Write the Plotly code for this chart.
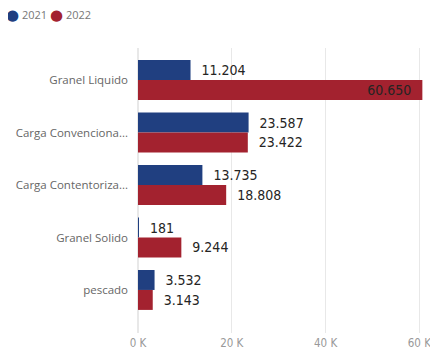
import plotly.graph_objects as go

categories = ["Granel Liquido", "Carga Convenciona...", "Carga Contentoriza...", "Granel Solido", "pescado"]
values_2021 = [11204, 23587, 13735, 181, 3532]
values_2022 = [60650, 23422, 18808, 9244, 3143]
tick_values = [0, 20000, 40000, 60000]
tick_labels = ["0 K", "20 K", "40 K", "60 K"]

blue = "#203F80"
red = "#A3222F"
num_font = "Liberation Sans Narrow, DejaVu Sans Condensed, sans-serif"
label_font = dict(family=num_font, size=14, color="#252423")
nb = "\u00a0"


def positions(vals):
    # the longest bar has no room outside, so its label goes inside at the end
    return ["inside" if v > 50000 else "outside" for v in vals]


def templates(vals):
    return [("%{x:,.0f}" + nb * 2) if v > 50000 else (nb * 2 + "%{x:,.0f}") for v in vals]


fig = go.Figure()
for name, vals, color in [("2021", values_2021, blue), ("2022", values_2022, red)]:
    fig.add_trace(go.Bar(
        y=categories, x=vals, orientation="h", name=name,
        marker=dict(color=color, line=dict(width=0)),
        texttemplate=templates(vals),
        textposition=positions(vals), insidetextanchor="end", constraintext="none",
        textfont=label_font, outsidetextfont=label_font, insidetextfont=label_font,
        cliponaxis=False, showlegend=False,
    ))

# legend drawn as text with round markers
legend_items = [("2021", blue, -0.44, -0.412), ("2022", red, -0.285, -0.257)]
for name, color, xc, xt in legend_items:
    fig.add_annotation(x=xc, y=1.116, xref="paper", yref="paper", xanchor="center",
                       yanchor="middle", showarrow=False, text="●",
                       font=dict(family="DejaVu Sans", size=15, color=color))
    fig.add_annotation(x=xt, y=1.116, xref="paper", yref="paper", xanchor="left",
                       yanchor="middle", showarrow=False, text=name,
                       font=dict(family="Open Sans", size=11, color="#777777"))

# page body adds an 8px offset, so the figure is 8px smaller on each side
fig.update_layout(
    width=430, height=342,
    margin=dict(l=130, r=14, t=40, b=17),
    plot_bgcolor="white", paper_bgcolor="white",
    separators=",.",
    barmode="group", bargap=0.24, bargroupgap=0,
    font=dict(family="Open Sans", size=11, color="#666666"),
    showlegend=False,
    xaxis=dict(range=[0, 61000], tickvals=tick_values, ticktext=tick_labels,
               showgrid=True, gridcolor="#E8E8E8", zeroline=True,
               zerolinecolor="#E8E8E8", showline=False, automargin=False,
               ticklabelstandoff=1,
               tickfont=dict(family=num_font, color="#999999", size=11.5)),
    yaxis=dict(range=[4.82, -0.61], showgrid=False, ticks="", automargin=False,
               ticklabelstandoff=9, tickfont=dict(color="#666666", size=11.5)),
)

fig.write_html("out.html")
